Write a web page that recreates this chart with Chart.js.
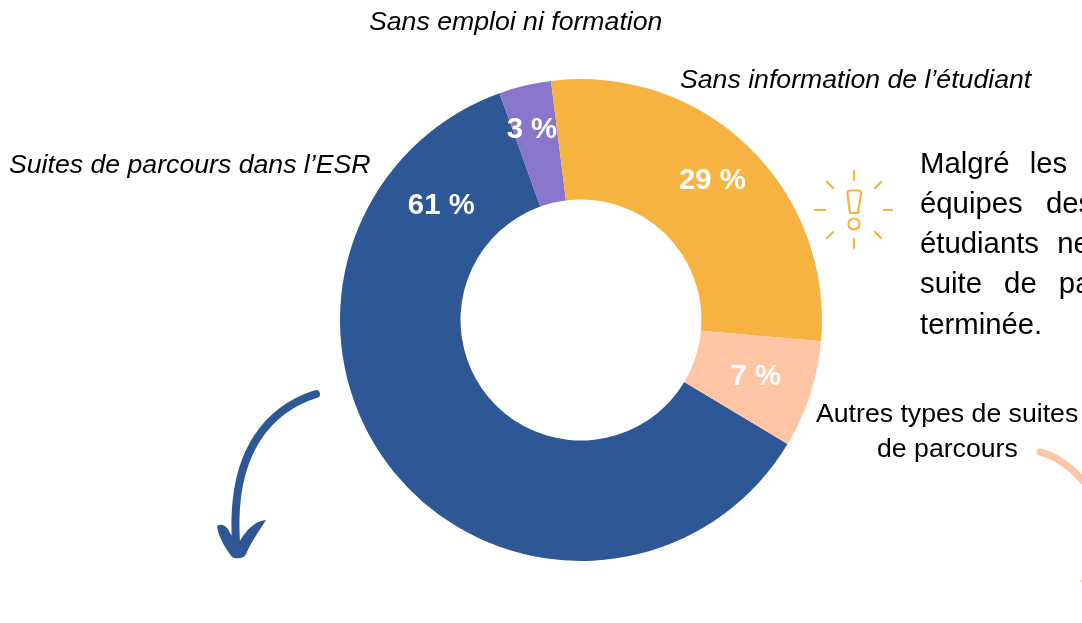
<!DOCTYPE html>
<html lang="fr"><head><meta charset="utf-8">
<script src="https://cdn.jsdelivr.net/npm/chart.js@4"></script>
<style>
html,body{margin:0;padding:0;background:#fff;overflow:hidden;width:1082px;height:623px}
#wrap{position:relative;width:1082px;height:623px;overflow:hidden;font-family:"Liberation Sans",Arial,sans-serif;color:#000}
canvas{position:absolute;left:0;top:0}
svg{position:absolute;left:0;top:0}
.t{position:absolute;font-size:26.67px;line-height:30px;white-space:nowrap}
.p{font-size:29.33px}
.i{font-style:italic}
</style></head><body>
<div id="wrap">
<canvas id="c" width="1082" height="623"></canvas>
<svg width="1082" height="623" viewBox="0 0 1082 623" fill="none">
  <path d="M316 394C272 408 230 448 236 542" stroke="#2D5795" stroke-width="8" stroke-linecap="round"/>
  <path d="M217 527C218 523 226 524 229 531C232 537 236 541 240 541C245 532 254 521 266 520C260 530 252 540 246 554C244 559 236 559 232 557C226 549 219 538 217 527Z" fill="#2D5795"/>
  <path d="M1040 452C1056 456 1072 468 1084 482" stroke="#FFC5A5" stroke-width="7" stroke-linecap="round"/>
  <circle cx="1082" cy="581" r="1.4" fill="#FFC5A5"/>
  <g stroke="#F7B341" stroke-width="2.200" stroke-linecap="round" stroke-linejoin="round">
    <path d="M854 171V180M854 239V248M815 210H825M884 210H892M827 182L833 188M881 182L875 188M827 238L833 232M881 238L875 232"/>
    <path d="M850 190.500Q847 190.500 847.500 194L850 213H858L861 194Q861.500 190.500 858 190.500Z"/>
    <circle cx="854" cy="224" r="5.500"/>
  </g>
</svg>
<div class="t i" style="left:369px;top:6px">Sans emploi ni formation</div>
<div class="t i" style="left:680px;top:64px">Sans information de l’étudiant</div>
<div class="t i" style="left:9px;top:149px">Suites de parcours dans l’ESR</div>
<div class="t" style="left:816px;top:398px">Autres types de suites</div>
<div class="t" style="left:877px;top:433px">de parcours</div>
<div class="t p" style="left:920px;top:148px;word-spacing:12px">Malgré les</div>
<div class="t p" style="left:920px;top:188px;word-spacing:15px">équipes des</div>
<div class="t p" style="left:920px;top:228px;word-spacing:10px">étudiants ne</div>
<div class="t p" style="left:920px;top:268px;word-spacing:14px">suite de pa</div>
<div class="t p" style="left:920px;top:309px">terminée.</div>
</div>
<script>
const categories = ["Suites de parcours dans l’ESR","Sans emploi ni formation","Sans information de l’étudiant","Autres types de suites de parcours"];
const values = [60.9, 3.5, 28.4, 7.2];
const valueLabels = ["61 %","3 %","29 %","7 %"];
const colors = ["#2D5795","#8A75CC","#F7B341","#FFC5A5"];
const labelShift = [[0,-229],[-7,-14],[6,-9],[3,1]];

const labelPlugin = {
  id:"sliceLabels",
  afterDatasetsDraw(chart){
    const ctx = chart.ctx;
    const arcs = chart.getDatasetMeta(0).data;
    ctx.save();
    ctx.font = 'bold 29.330px "Liberation Sans", Arial, sans-serif';
    ctx.fillStyle = "#fff";
    ctx.textAlign = "center";
    ctx.textBaseline = "middle";
    arcs.forEach((a,i)=>{
      const p = a.tooltipPosition();
      ctx.fillText(valueLabels[i], p.x + labelShift[i][0], p.y + labelShift[i][1]);
    });
    ctx.restore();
  }
};
new Chart(document.getElementById("c"),{
  type:"doughnut",
  data:{labels:categories,datasets:[{data:values,backgroundColor:colors,borderWidth:0,hoverOffset:0}]},
  options:{
    responsive:false,animation:false,rotation:121,cutout:"50%",
    layout:{padding:{left:340,right:260,top:79,bottom:62}},
    plugins:{legend:{display:false},tooltip:{enabled:false}}
  },
  plugins:[labelPlugin]
});
</script>
</body></html>
